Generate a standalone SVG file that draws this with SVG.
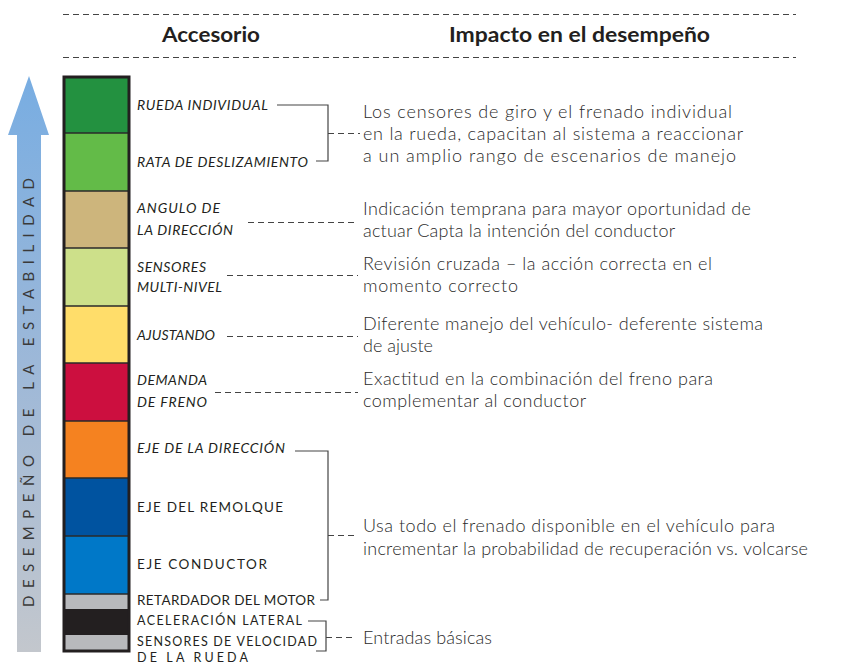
<svg xmlns="http://www.w3.org/2000/svg" width="843" height="664" viewBox="0 0 843 664">
<defs>
<linearGradient id="arrowGrad" x1="0" y1="0" x2="0" y2="1">
<stop offset="0" stop-color="#78ade2"/>
<stop offset="0.5" stop-color="#9db8d8"/>
<stop offset="1" stop-color="#c3c7cd"/>
</linearGradient>
</defs>
<style>
.hdr{font-family:Lato,"Liberation Sans",sans-serif;font-weight:bold;font-size:20.5px;fill:#231f20}
.lbl{font-family:Lato,"Liberation Sans",sans-serif;font-style:italic;font-size:14px;fill:#231f20}
.up{font-family:Lato,"Liberation Sans",sans-serif;font-size:13.5px;fill:#231f20}
.sm{font-size:12.5px}
.desc{font-family:Lato,"Liberation Sans",sans-serif;font-weight:300;font-size:18px;fill:#2a2a2a}
.dash{fill:none;stroke:#444;stroke-width:1;stroke-dasharray:6 4}
.solid{fill:none;stroke:#444;stroke-width:1.2}
.sep{stroke:#2a2a2a;stroke-width:1.5}
.vtxt{font-family:Lato,"Liberation Sans",sans-serif;font-size:15px;fill:#3a3a3a}
</style>

<g id="header">
<line class="dash" x1="63" y1="14.5" x2="796" y2="14.5"/>
<line class="dash" x1="63" y1="57.5" x2="796" y2="57.5"/>
<text class="hdr" x="162" y="42" textLength="98" lengthAdjust="spacingAndGlyphs">Accesorio</text>
<text class="hdr" x="449" y="42" textLength="261" lengthAdjust="spacingAndGlyphs">Impacto en el desempeño</text>
</g>

<g id="stability-arrow">
<path d="M29,76 L49,135 L41,135 L41,652 L17,652 L17,135 L8,135 Z" fill="url(#arrowGrad)"/>
<text class="vtxt" transform="translate(34,607) rotate(-90)" x="0" y="0" textLength="429" lengthAdjust="spacing">DESEMPEÑO DE LA ESTABILIDAD</text>
</g>

<g id="bar">
<g id="seg-rueda-individual"><rect x="64" y="77" width="65" height="56" fill="#239140"/></g>
<g id="seg-rata"><rect x="64" y="133" width="65" height="58" fill="#63bb48"/></g>
<g id="seg-angulo"><rect x="64" y="191" width="65" height="57" fill="#cdb57c"/></g>
<g id="seg-sensores-multi"><rect x="64" y="248" width="65" height="58" fill="#cde08a"/></g>
<g id="seg-ajustando"><rect x="64" y="306" width="65" height="57" fill="#ffdd6a"/></g>
<g id="seg-demanda"><rect x="64" y="363" width="65" height="58" fill="#cc0f3f"/></g>
<g id="seg-eje-direccion"><rect x="64" y="421" width="65" height="57" fill="#f58220"/></g>
<g id="seg-eje-remolque"><rect x="64" y="478" width="65" height="58" fill="#0053a0"/></g>
<g id="seg-eje-conductor"><rect x="64" y="536" width="65" height="58" fill="#0078c8"/></g>
<g id="seg-retardador"><rect x="64" y="594" width="65" height="15" fill="#b8b9bc"/></g>
<g id="seg-aceleracion"><rect x="64" y="609" width="65" height="26" fill="#231f20"/></g>
<g id="seg-velocidad"><rect x="64" y="635" width="65" height="16" fill="#b8b9bc"/></g>
<line class="sep" x1="64" y1="133" x2="129" y2="133"/>
<line class="sep" x1="64" y1="191" x2="129" y2="191"/>
<line class="sep" x1="64" y1="248" x2="129" y2="248"/>
<line class="sep" x1="64" y1="306" x2="129" y2="306"/>
<line class="sep" x1="64" y1="363" x2="129" y2="363"/>
<line class="sep" x1="64" y1="421" x2="129" y2="421"/>
<line class="sep" x1="64" y1="478" x2="129" y2="478"/>
<line class="sep" x1="64" y1="536" x2="129" y2="536"/>
<line class="sep" x1="64" y1="594" x2="129" y2="594"/>
<rect x="64" y="77" width="65" height="574" fill="none" stroke="#231f20" stroke-width="3"/>
</g>

<g id="labels">
<text class="lbl" x="137" y="110" textLength="131" lengthAdjust="spacing">RUEDA INDIVIDUAL</text>
<text class="lbl" x="137" y="167" textLength="171" lengthAdjust="spacing">RATA DE DESLIZAMIENTO</text>
<text class="lbl" x="137" y="213" textLength="83" lengthAdjust="spacing">ANGULO DE</text>
<text class="lbl" x="137" y="235" textLength="96" lengthAdjust="spacing">LA DIRECCIÓN</text>
<text class="lbl" x="137" y="272" textLength="69" lengthAdjust="spacing">SENSORES</text>
<text class="lbl" x="137" y="292" textLength="85" lengthAdjust="spacing">MULTI-NIVEL</text>
<text class="lbl" x="137" y="340" textLength="78" lengthAdjust="spacing">AJUSTANDO</text>
<text class="lbl" x="137" y="385" textLength="70" lengthAdjust="spacing">DEMANDA</text>
<text class="lbl" x="137" y="407" textLength="70" lengthAdjust="spacing">DE FRENO</text>
<text class="lbl" x="137" y="453" textLength="148" lengthAdjust="spacing">EJE DE LA DIRECCIÓN</text>
<text class="up" x="137" y="512" font-size="15.5" textLength="146" lengthAdjust="spacing">EJE DEL REMOLQUE</text>
<text class="up" x="137" y="569" font-size="15.5" textLength="130" lengthAdjust="spacing">EJE CONDUCTOR</text>
<text class="up" x="137" y="605" textLength="178" lengthAdjust="spacing">RETARDADOR DEL MOTOR</text>
<text class="up sm" x="137" y="625" textLength="165" lengthAdjust="spacing">ACELERACIÓN LATERAL</text>
<text class="up sm" x="137" y="646" textLength="180" lengthAdjust="spacing">SENSORES DE VELOCIDAD</text>
<text class="up sm" x="137" y="662" textLength="111" lengthAdjust="spacing">DE LA RUEDA</text>
</g>

<g id="descriptions">
<g id="desc-1">
<text class="desc" x="363" y="118" textLength="369" lengthAdjust="spacing">Los censores de giro y el frenado individual</text>
<text class="desc" x="363" y="140" textLength="380" lengthAdjust="spacing">en la rueda, capacitan al sistema a reaccionar</text>
<text class="desc" x="363" y="162" textLength="373" lengthAdjust="spacing">a un amplio rango de escenarios de manejo</text>
</g>
<g id="desc-2">
<text class="desc" x="363" y="215" textLength="388" lengthAdjust="spacing">Indicación temprana para mayor oportunidad de</text>
<text class="desc" x="363" y="237" textLength="312" lengthAdjust="spacing">actuar Capta la intención del conductor</text>
</g>
<g id="desc-3">
<text class="desc" x="363" y="270" textLength="349" lengthAdjust="spacing">Revisión cruzada – la acción correcta en el</text>
<text class="desc" x="363" y="292" textLength="155" lengthAdjust="spacing">momento correcto</text>
</g>
<g id="desc-4">
<text class="desc" x="363" y="330" textLength="400" lengthAdjust="spacing">Diferente manejo del vehículo- deferente sistema</text>
<text class="desc" x="363" y="352" textLength="70" lengthAdjust="spacing">de ajuste</text>
</g>
<g id="desc-5">
<text class="desc" x="363" y="385" textLength="350" lengthAdjust="spacing">Exactitud en la combinación del freno para</text>
<text class="desc" x="363" y="407" textLength="223" lengthAdjust="spacing">complementar al conductor</text>
</g>
<g id="desc-6">
<text class="desc" x="363" y="532" textLength="412" lengthAdjust="spacing">Usa todo el frenado disponible en el vehículo para</text>
<text class="desc" x="363" y="555" textLength="445" lengthAdjust="spacing">incrementar la probabilidad de recuperación vs. volcarse</text>
</g>
<g id="desc-7">
<text class="desc" x="363" y="644" textLength="129" lengthAdjust="spacing">Entradas básicas</text>
</g>
</g>

<g id="connectors">
<polyline class="solid" points="277,105 328,105 328,161 316,161"/>
<line class="dash" x1="328" y1="133.5" x2="360" y2="133.5"/>
<line class="dash" x1="248" y1="222.5" x2="358" y2="222.5"/>
<line class="dash" x1="227" y1="275.5" x2="358" y2="275.5"/>
<line class="dash" x1="227" y1="336.5" x2="358" y2="336.5"/>
<line class="dash" x1="215" y1="392.5" x2="358" y2="392.5"/>
<polyline class="solid" points="295,451 328,451 328,600 320,600"/>
<line class="dash" x1="328" y1="535.5" x2="356" y2="535.5"/>
<polyline class="solid" points="308,621 326,621 326,651 316,651"/>
<line class="dash" x1="326" y1="637.5" x2="356" y2="637.5"/>
</g>
</svg>
